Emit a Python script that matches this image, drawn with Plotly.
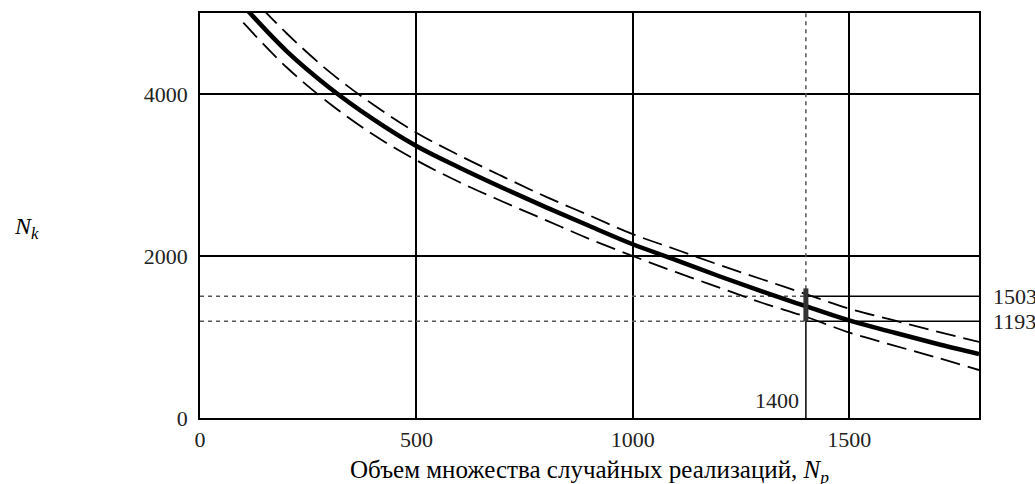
import plotly.graph_objects as go

# ---- data ----
n_p = [100, 200, 300, 400, 500, 600, 700, 800, 900, 1000,
       1100, 1200, 1300, 1400, 1500, 1600, 1700, 1800]
n_k_mean = [5090, 4530, 4075, 3690, 3358, 3090, 2840, 2600, 2370, 2145,
            1950, 1750, 1560, 1380, 1205, 1060, 920, 790]
n_k_upper = [5300, 4750, 4270, 3870, 3522, 3240, 2980, 2730, 2500, 2270,
             2080, 1890, 1710, 1530, 1350, 1210, 1070, 940]
n_k_lower = [4880, 4330, 3880, 3500, 3182, 2910, 2670, 2440, 2210, 2000,
             1800, 1610, 1420, 1250, 1055, 900, 750, 592]

ref_np = 1400
ref_hi = 1503
ref_lo = 1193
bar_top = 1600

x_ticks = [0, 500, 1000, 1500]
y_ticks = [0, 2000, 4000]
x_max = 1800
y_max = 5000

FONT = "Liberation Serif, Times New Roman, serif"

fig = go.Figure()

# dotted reference lines (left part)
dot = dict(color="#555555", width=1.5, dash="4px,4px")
fig.add_trace(go.Scatter(x=[0, ref_np], y=[ref_hi, ref_hi], mode="lines", line=dot, hoverinfo="skip"))
fig.add_trace(go.Scatter(x=[0, ref_np], y=[ref_lo, ref_lo], mode="lines", line=dot, hoverinfo="skip"))
fig.add_trace(go.Scatter(x=[ref_np, ref_np], y=[ref_lo, y_max], mode="lines", line=dot, hoverinfo="skip"))
# solid reference lines (right / lower part)
sol = dict(color="black", width=1.5)
fig.add_trace(go.Scatter(x=[ref_np, x_max], y=[ref_hi, ref_hi], mode="lines", line=sol, hoverinfo="skip"))
fig.add_trace(go.Scatter(x=[ref_np, x_max], y=[ref_lo, ref_lo], mode="lines", line=sol, hoverinfo="skip"))
fig.add_trace(go.Scatter(x=[ref_np, ref_np], y=[0, ref_lo], mode="lines", line=sol, hoverinfo="skip"))

# confidence curves
dash = dict(color="black", width=1.8, dash="20px,8px")
fig.add_trace(go.Scatter(x=n_p, y=n_k_upper, mode="lines", line=dict(shape="spline", **dash)))
fig.add_trace(go.Scatter(x=n_p, y=n_k_lower, mode="lines", line=dict(shape="spline", **dash)))
# main curve
fig.add_trace(go.Scatter(x=n_p, y=n_k_mean, mode="lines",
                         line=dict(color="black", width=4.5, shape="spline")))
# interval bar at 1400
fig.add_trace(go.Scatter(x=[ref_np, ref_np], y=[ref_lo, bar_top], mode="lines",
                         line=dict(color="#333333", width=5)))

TXT = dict(family=FONT, size=22, color="#222")
W, H = 1035, 484
L, R, T, B = 200, 56, 13, 66
pw, ph = W - L - R, H - T - B


def px_x(p):
    return (p - L) / pw


def px_y(p):
    return (H - B - p) / ph


annotations = [
    dict(text=str(ref_hi), x=1, xref="paper", y=ref_hi, yref="y", xanchor="left",
         yanchor="middle", xshift=12, showarrow=False, font=TXT),
    dict(text=str(ref_lo), x=1, xref="paper", y=ref_lo, yref="y", xanchor="left",
         yanchor="middle", xshift=12, showarrow=False, font=TXT),
    dict(text=str(ref_np), x=ref_np, xref="x", y=px_y(400), yref="paper", xanchor="right",
         yanchor="middle", xshift=-5, showarrow=False, font=TXT),
    dict(text="<i>N</i><sub><i>k</i></sub>", x=px_x(12), xref="paper", xanchor="left",
         y=px_y(228), yref="paper", yanchor="middle", showarrow=False,
         font=dict(family=FONT, size=24, color="black")),
    dict(text="Объем множества случайных реализаций, <i>N</i><sub><i>p</i></sub>",
         x=0.5, xref="paper", y=px_y(471), yref="paper", yanchor="middle", showarrow=False,
         font=dict(family=FONT, size=25, color="black")),
]

fig.update_layout(
    width=W, height=H,
    margin=dict(l=L, r=R, t=T, b=B, autoexpand=False),
    plot_bgcolor="white", paper_bgcolor="white",
    showlegend=False,
    font=TXT,
    annotations=annotations,
)
fig.update_xaxes(range=[0, x_max], tickvals=x_ticks, showgrid=True, gridcolor="black",
                 gridwidth=1.5, zeroline=False, showline=True, linecolor="black",
                 linewidth=1.5, mirror=True, ticks="", ticklabelstandoff=1,
                 tickfont=TXT, automargin=False)
fig.update_yaxes(range=[0, y_max], tickvals=y_ticks, showgrid=True, gridcolor="black",
                 gridwidth=1.5, zeroline=False, showline=True, linecolor="black",
                 linewidth=1.5, mirror=True, ticks="", ticklabelstandoff=6,
                 tickfont=TXT, automargin=False)

fig.write_html("out.html", config={"displayModeBar": False},
               post_script="document.body.style.margin='0px';document.body.style.overflow='hidden';")
